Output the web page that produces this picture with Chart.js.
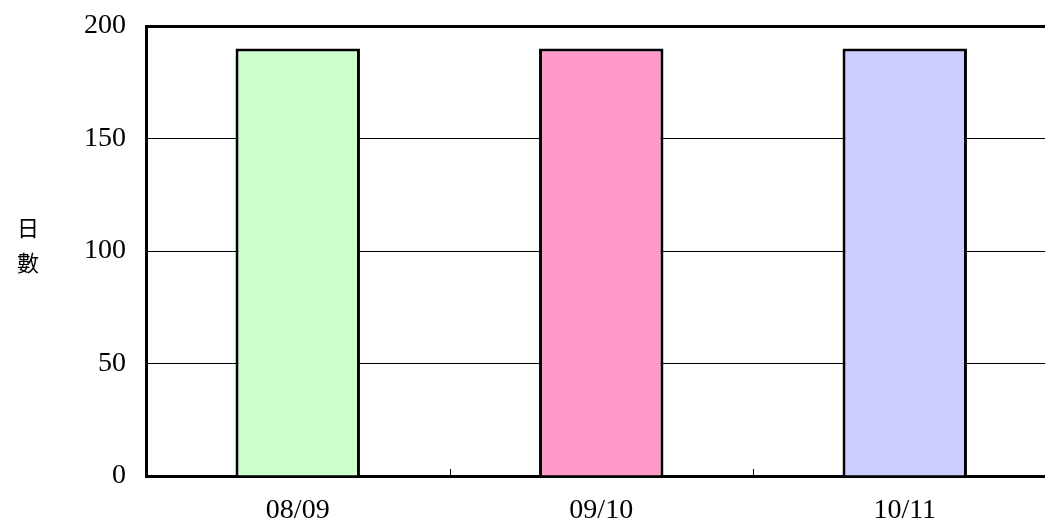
<!DOCTYPE html>
<html lang="zh-Hant">
<head>
<meta charset="UTF-8">
<title>日數</title>
<script src="https://cdn.jsdelivr.net/npm/chart.js"></script>
<style>
  html, body { margin: 0; padding: 0; background: #fff; overflow: hidden; }
  #wrap { width: 1060px; height: 526px; }
</style>
</head>
<body>
<div id="wrap"><canvas id="c" width="1060" height="526"></canvas></div>
<script>
// data
const categories = ['08/09', '09/10', '10/11'];
const days = [190, 190, 190];
const barColors = ['#CCFFCC', '#FF99CC', '#CCCCFF'];
const yTicks = [0, 50, 100, 150, 200];
const yTitle = ['日', '數'];

const serif = '"Liberation Serif", "Times New Roman", "Noto Sans CJK TC", serif';

// small inward tick marks between categories + stacked y title
const extras = {
  id: 'extras',
  afterDraw(chart) {
    const ctx = chart.ctx;
    const x = chart.scales.x;
    const area = chart.chartArea;
    ctx.save();
    ctx.strokeStyle = '#000';
    ctx.lineWidth = 1;
    for (let i = 0; i < categories.length - 1; i++) {
      const px = Math.round((x.getPixelForTick(i) + x.getPixelForTick(i + 1)) / 2) + 0.5;
      ctx.beginPath();
      ctx.moveTo(px, area.bottom);
      ctx.lineTo(px, area.bottom - 7);
      ctx.stroke();
    }
    ctx.fillStyle = '#000';
    ctx.font = '22px "Noto Sans CJK TC", sans-serif';
    ctx.textAlign = 'center';
    ctx.textBaseline = 'middle';
    const mid = (area.top + area.bottom) / 2;
    ctx.fillText(yTitle[0], 28, mid - 23);
    ctx.fillText(yTitle[1], 28, mid + 12);
    ctx.restore();
  }
};

new Chart(document.getElementById('c'), {
  type: 'bar',
  data: {
    labels: categories,
    datasets: [{
      data: days,
      backgroundColor: barColors,
      borderColor: '#000',
      borderWidth: 3,
      barPercentage: 0.41,
      categoryPercentage: 1
    }]
  },
  options: {
    responsive: false,
    animation: false,
    layout: { padding: { top: 26, right: 3.5, left: 0, bottom: 0 } },
    plugins: { legend: { display: false }, tooltip: { enabled: false } },
    scales: {
      x: {
        offset: true,
        grid: { display: false },
        border: { display: true, color: '#000', width: 3 },
        ticks: { color: '#000', font: { family: serif, size: 28 }, padding: 10, maxRotation: 0 },
        afterFit(s) { s.height = 50; s.paddingLeft = 0; s.paddingRight = 0; }
      },
      y: {
        min: 0,
        max: 200,
        afterBuildTicks(s) { s.ticks = yTicks.map(v => ({ value: v })); },
        grid: {
          drawTicks: false,
          color: '#000',
          lineWidth: c => (c.tick && c.tick.value === 200 ? 3 : 1)
        },
        border: { display: true, color: '#000', width: 3 },
        ticks: { color: '#000', font: { family: serif, size: 28 }, padding: 20 },
        afterFit(s) { s.width = 146; s.paddingTop = 0; s.paddingBottom = 0; }
      }
    }
  },
  plugins: [extras]
});
</script>
</body>
</html>
